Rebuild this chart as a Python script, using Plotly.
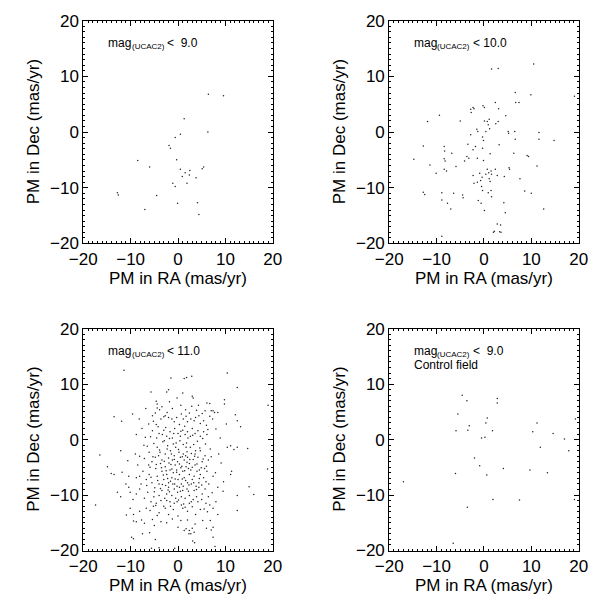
import plotly.graph_objects as go

# Panel 1: mag < 9.0
p1_x = [6.4, 9.6, 1.3, 6.3, 0.5, -0.6, -1.9, -1.6, -0.3, -8.5, -6.0, 0.5, 2.5, 1.5, 5.4, 5.1, 0.9, 2.4,
        3.8, 1.9, -1.1, -0.6, -12.8, -12.6, -4.5, -0.1, 4.1, -7.0, 4.4]
p1_y = [6.8, 6.5, 2.4, 0.0, -0.4, -1.0, -2.4, -2.9, -5.0, -5.1, -6.3, -6.7, -6.9, -7.3, -6.3, -6.6, -8.0, -7.7,
        -8.2, -9.2, -9.2, -9.8, -10.9, -11.3, -11.4, -12.8, -12.7, -13.9, -14.8]

# Panel 2: mag < 10.0
p2 = [(-14.8, -4.9), (-12.8, -2.5), (-12.8, -10.8), (-12.5, -11.2), (-11.9, 1.9), (-11.4, -5.9), (-10.1, -7.4),
      (-9.4, 3.0), (-8.4, -2.6), (-8.3, -3.4), (-8.4, -4.8), (-8.2, -5.2), (-8.4, -6.7), (-7.9, -7.0),
      (-8.9, -10.9), (-8.9, -12.2), (-7.7, -12.8), (-7.0, -13.8), (-6.8, -3.8), (-6.4, -11.0), (-5.9, -6.2),
      (-5.0, 2.0), (-4.5, -11.3), (-4.4, -11.8), (-4.1, -5.2), (-3.6, -4.4), (-3.4, -2.2), (-2.8, -0.5),
      (-2.8, 4.1), (-2.7, 3.5), (-2.3, 4.4), (-2.1, 4.2), (-3.2, -4.7), (-2.3, -3.2), (-1.8, -2.6), (-1.5, 0.5),
      (-1.3, 0.1), (-1.4, -4.7), (-2.3, -7.8), (-2.1, -9.2), (-1.4, -9.0), (-0.9, -7.4), (-0.7, -8.7),
      (-0.5, -9.8), (-0.3, -10.5), (-0.4, -8.1), (-0.2, 4.7), (0.1, 4.4), (-0.3, -0.9), (-0.1, -1.5),
      (-0.3, -2.9), (-0.1, -5.1), (-1.2, -12.3), (-0.6, -12.8), (0.1, -14.1), (0.1, 2.0), (0.4, 0.1),
      (0.4, -7.6), (0.7, -6.7), (1.0, -7.3), (0.7, 1.9), (0.9, 1.3), (1.1, 2.3), (1.2, 0.6), (1.3, -3.9),
      (1.1, -8.4), (1.3, -8.9), (0.9, -10.9), (1.5, -7.0), (1.6, -7.6), (1.6, -11.6), (1.5, -10.5),
      (1.6, 11.3), (2.4, 5.3), (2.4, -6.7), (2.8, -7.8), (2.5, 1.5), (3.0, 11.4), (3.0, 1.9), (3.2, -2.3),
      (3.1, 4.2), (2.0, -18.0), (2.2, -17.8), (2.8, -16.5), (3.5, -16.7), (3.3, -17.9), (3.6, -18.0),
      (4.3, -8.0), (4.2, -12.7), (4.5, -14.5), (4.6, 2.9), (5.1, 0.1), (5.2, -0.2), (5.3, -6.4), (5.4, -6.7),
      (6.6, 7.1), (6.5, 0.1), (6.6, -1.3), (6.7, 5.3), (7.4, 5.3), (6.3, -3.8), (7.6, -8.4), (8.6, -10.6),
      (9.1, -4.2), (9.4, -4.4), (9.9, 6.7), (10.0, -11.0), (10.5, 12.2), (11.2, -6.1), (11.6, -0.1),
      (11.6, -1.3), (12.6, -13.8), (14.8, -1.5), (19.1, 6.4), (-8.9, -18.7)]
p2_x = [p[0] for p in p2]
p2_y = [p[1] for p in p2]

# Panel 3: mag < 11.0
p3 = [(-11.4, 12.5), (-1.5, 11.1), (1.3, 11.0), (1.8, 11.2), (2.9, 11.4), (10.4, 12.0), (12.5, 9.4),
      (-5.7, 8.6), (-2.4, 8.6), (-2.0, 9.0), (-4.6, 6.9), (-4.4, 6.4), (-4.4, 5.7), (-0.2, 7.5), (3.0, 7.8),
      (3.2, 7.5), (6.1, 6.6), (6.7, 6.5), (9.8, 7.2), (9.8, 6.4), (7.0, 5.2), (7.4, 5.2), (5.7, 5.2),
      (19.0, 6.2), (-13.5, 4.1), (-9.6, 4.6), (-11.9, 3.3), (-8.2, 3.7), (-6.2, 2.8), (-5.4, 4.3), (-5.2, 3.3),
      (-4.6, 2.7), (-4.2, 2.3), (-3.6, 3.7), (-3.0, 4.1), (-2.7, 4.3), (-2.3, 4.9), (-2.0, 4.0), (-1.3, 3.7),
      (-0.8, 3.2), (-0.3, 4.0), (0.7, 4.6), (1.1, 3.7), (1.7, 4.2), (2.0, 3.2), (2.4, 4.8), (2.7, 3.7),
      (3.4, 3.4), (3.7, 4.0), (4.4, 4.3), (4.7, 2.9), (5.4, 3.4), (6.7, 4.2), (7.3, 3.7), (7.7, 4.9),
      (8.4, 4.9), (12.1, 4.5), (12.5, 3.4), (13.2, 2.3),
      (-5.4, 1.6), (-4.0, 1.1), (-3.0, 1.7), (-2.4, 0.6), (-1.7, 1.4), (-1.2, 0.3), (-0.7, 2.0), (0.0, 1.1),
      (0.5, 0.6), (1.0, 1.7), (1.5, 0.9), (2.0, 1.4), (2.6, 0.6), (3.0, 2.0), (3.6, 1.1), (4.2, 1.6),
      (4.7, 0.6), (5.4, 1.4), (6.1, 0.9), (10.4, -1.4), (11.1, -1.1), (11.8, -1.8), (12.5, -1.4),
      (14.7, -1.6), (-16.5, -2.8), (-12.1, -2.0), (-9.0, -2.6), (-8.1, -3.0), (-7.1, -3.4), (-6.1, -2.3),
      (-5.5, -4.0), (-4.8, -3.2), (-4.4, -1.4), (-3.8, -2.3), (-3.4, -3.7), (-2.7, -2.6), (-2.2, -1.1),
      (-2.0, -3.3), (-1.6, -2.0), (-1.2, -3.7), (-0.8, -2.9), (-0.5, -1.4), (-0.1, -4.0), (0.2, -2.3),
      (0.5, -3.2), (0.8, -4.8), (1.1, -2.6), (1.3, -3.7), (1.7, -1.4), (2.0, -3.2), (2.4, -4.3), (2.8, -2.5),
      (3.2, -3.6), (3.7, -2.0), (4.2, -3.2), (4.7, -2.0), (5.1, -4.0), (5.7, -2.9), (6.4, -3.7), (9.1, -4.2),
      (-14.9, -4.9), (-14.1, -6.1), (-13.5, -6.3), (-11.8, -5.9), (-10.4, -6.6), (-8.8, -6.9), (-8.1, -6.6),
      (-7.4, -5.7), (-6.7, -7.2), (-6.1, -6.3), (-5.5, -7.8), (-4.7, -5.2), (-4.4, -6.6), (-4.0, -8.0),
      (-3.4, -5.7), (-3.0, -7.2), (-2.7, -4.9), (-2.4, -6.3), (-2.0, -7.8), (-1.7, -5.5), (-1.3, -6.9),
      (-1.0, -6.0), (-0.7, -8.0), (-0.3, -5.5), (0.0, -7.2), (0.3, -6.3), (0.7, -8.0), (1.0, -5.7),
      (1.3, -6.9), (1.7, -4.9), (2.0, -7.8), (2.4, -6.3), (2.7, -5.5), (3.0, -7.2), (3.4, -6.6), (4.0, -5.7),
      (4.4, -7.8), (4.7, -6.3), (5.4, -6.9), (6.1, -5.7), (7.4, -6.6), (11.1, -6.3), (11.3, -5.7),
      (18.9, -5.3), (-12.8, -9.5), (-12.1, -10.3), (-10.4, -8.6), (-10.1, -9.5), (-8.8, -9.8), (-8.1, -8.9),
      (-7.1, -10.6), (-6.4, -9.5), (-5.7, -11.2), (-5.1, -10.3), (-4.6, -11.5), (-4.0, -10.1), (-3.4, -9.2),
      (-2.8, -10.6), (-2.4, -9.8), (-2.0, -8.6), (-1.7, -11.2), (-1.3, -10.1), (-0.8, -8.9), (-0.5, -10.6),
      (-0.1, -9.5), (0.3, -8.6), (0.7, -10.3), (1.0, -9.2), (1.5, -10.6), (1.9, -8.9), (2.4, -10.1),
      (2.8, -11.2), (3.4, -9.2), (3.9, -10.3), (4.4, -8.6), (5.1, -9.8), (5.7, -8.9), (6.4, -10.3),
      (6.7, -11.8), (8.4, -8.6), (12.5, -10.1), (15.0, -8.5), (16.0, -9.9), (-17.4, -11.8), (-10.1, -12.4),
      (-9.4, -13.5), (-8.1, -12.9), (-6.7, -12.4), (-4.7, -11.9), (-4.0, -13.2), (-2.7, -12.4), (-2.0, -13.5),
      (-1.0, -12.6), (0.0, -13.8), (1.0, -12.4), (2.0, -12.9), (3.0, -12.1), (3.7, -13.5), (4.7, -12.6),
      (5.9, -11.5), (7.4, -12.4), (8.4, -13.5), (12.5, -12.8), (-9.4, -14.7), (-8.8, -14.8), (-7.7, -14.5),
      (-7.1, -15.1), (-5.4, -14.4), (0.0, -15.8), (1.3, -16.4), (1.7, -16.1), (2.4, -16.4), (2.7, -17.0),
      (3.0, -16.0), (3.4, -16.7), (7.4, -15.8), (-9.8, -17.6), (-4.8, -18.0), (-9.4, -17.9), (-5.6, -19.6),
      (-4.0, -19.5), (-0.7, -19.6), (2.3, -17.0), (3.1, -18.3), (3.5, -18.6), (7.0, -16.3), (7.4, -17.6),
      (7.8, -19.3),
      (-3.2, -0.4), (-1.0, -0.8), (0.4, -0.2), (1.8, -0.6), (3.3, -0.9), (-2.6, 2.2), (0.3, 2.7), (1.4, 2.4),
      (-0.6, -4.6), (1.9, -2.2), (3.6, -4.6), (-3.7, -4.3), (-1.5, -4.5), (0.6, -5.1), (2.2, -5.2),
      (-2.1, -9.1), (-0.2, -11.2), (1.2, -11.6), (2.3, -8.2), (-1.6, -7.5), (0.9, -7.1), (3.8, -8.4),
      (-3.3, -8.1), (4.9, -5.1), (-4.9, -8.7), (5.9, -7.6), (-5.9, -5.0), (6.8, -1.7), (-6.9, 0.4),
      (8.0, 1.9), (-8.8, 0.9), (9.5, -9.3), (-10.9, -13.6), (10.2, 2.8), (-3.9, 5.4), (4.3, 6.2),
      (-6.5, -1.2), (-5.8, 0.5), (-5.1, -0.7), (-4.5, 0.3), (-3.9, -1.9), (-3.3, 0.9), (-2.9, -0.2),
      (-2.3, -1.7), (-1.8, 0.2), (-1.4, -2.6), (-0.9, 1.1), (-0.4, -0.6), (0.1, -1.8), (0.6, 1.5), (1.1, -0.9),
      (1.6, -2.9), (2.1, 0.3), (2.6, -1.4), (3.1, 0.8), (3.6, -2.6), (4.1, -0.3), (4.6, -1.5), (5.2, 0.2),
      (5.8, -0.8), (6.3, 1.8), (-6.2, -4.6), (-5.3, -3.1), (-4.6, -4.5), (-4.1, -2.9), (-3.5, -5.1),
      (-2.9, -3.9), (-2.5, -5.6), (-1.9, -4.2), (-1.3, -5.3), (-0.8, -3.6), (-0.3, -5.9), (0.3, -4.4),
      (0.9, -3.1), (1.4, -5.6), (1.9, -4.1), (2.5, -3.6), (3.0, -5.0), (3.5, -3.0), (4.0, -4.4), (4.5, -5.5),
      (5.3, -3.5), (6.0, -4.8), (7.0, -3.1), (-6.6, -8.3), (-5.7, -6.8), (-5.0, -9.4), (-4.3, -7.4),
      (-3.7, -8.8), (-3.1, -6.4), (-2.6, -8.3), (-2.2, -7.0), (-1.8, -9.4), (-1.1, -8.0), (-0.6, -7.1),
      (-0.2, -8.4), (0.5, -9.3), (1.1, -8.4), (1.6, -7.4), (2.2, -9.3), (2.8, -8.0), (3.3, -7.8), (3.9, -9.0),
      (4.5, -7.0), (5.0, -8.2), (5.6, -5.2), (6.5, -8.0), (7.2, -9.6), (-5.9, -12.8), (-5.2, -12.0),
      (-4.4, -13.7), (-3.6, -11.0), (-3.0, -12.0), (-2.4, -11.0), (-1.6, -12.0), (-0.8, -11.5), (0.1, -10.9),
      (0.7, -11.8), (1.5, -12.2), (2.4, -11.5), (3.2, -10.8), (4.2, -11.2), (5.0, -10.8), (5.5, -12.5),
      (6.2, -13.0), (-5.0, -15.5), (-3.6, -14.8), (-2.4, -15.0), (-1.2, -14.3), (0.6, -14.6), (2.0, -14.5),
      (3.6, -15.2), (5.2, -14.6), (6.0, -16.0), (-4.8, 4.8), (-3.4, 5.9), (-1.2, 5.6), (0.6, 6.2), (1.6, 5.4),
      (2.9, 6.0), (3.9, 5.3), (5.1, 4.7), (-1.8, 6.8), (1.0, 8.4), (-6.8, 5.6), (6.0, 2.6), (-7.6, 2.0),
      (-7.2, -1.0), (-8.5, -4.6), (-7.8, -8.0), (-9.5, -10.8), (7.9, -6.0), (8.6, -2.6), (8.9, 0.3),
      (9.6, -7.6), (-11.0, -8.0), (-10.6, -3.8), (6.8, -14.6), (8.0, -11.2), (-7.5, -17.0), (-6.0, -16.8)]
p3_x = [p[0] for p in p3]
p3_y = [p[1] for p in p3]

# Panel 4: mag < 9.0, control field
p4 = [(-17.0, -7.6), (-6.5, -18.7), (-4.6, 8.0), (-3.6, 7.0), (-5.5, 4.6), (-5.9, 1.6), (-3.1, 2.5),
      (-3.4, 1.7), (-6.0, -6.1), (-2.0, -3.3), (-0.9, -4.7), (-3.5, -12.2), (-0.5, 0.3), (0.2, 0.4),
      (0.7, 3.9), (0.4, 3.0), (0.6, -6.4), (1.8, 1.6), (1.9, -10.8), (2.8, 7.4), (2.8, 6.6), (4.1, -5.2),
      (7.5, -10.9), (9.7, -5.5), (10.3, 1.4), (11.2, 3.0), (11.9, -1.4), (13.4, -6.0), (14.6, 1.1),
      (17.0, 0.1), (17.9, -2.0), (19.1, -10.8), (19.3, 3.7)]
p4_x = [p[0] for p in p4]
p4_y = [p[1] for p in p4]

label_main = "mag"
label_sub = "(UCAC2)"
label_cut = ["<\u00a0\u00a09.0", "<\u00a010.0", "<\u00a011.0", "<\u00a0\u00a09.0"]
label_extra = ["", "", "", "Control field"]
tick_vals = [-20, -10, 0, 10, 20]
x_title = "PM in RA (mas/yr)"
y_title = "PM in Dec (mas/yr)"

W, H = 606, 607
FONT = "Liberation Sans, Arial, Helvetica, sans-serif"
xdoms = [[72 / W, 269 / W], [390 / W, 587 / W]]
ydoms = [[1 - 242 / H, 1 - 12 / H], [1 - 559 / H, 1 - 330 / H]]

fig = go.Figure()
data = [(p1_x, p1_y), (p2_x, p2_y), (p3_x, p3_y), (p4_x, p4_y)]
pos = [(0, 0), (1, 0), (0, 1), (1, 1)]


def txt(text, size, **kw):
    fig.add_annotation(text=text, showarrow=False, font=dict(family=FONT, size=size, color="black"), **kw)


for i, ((xs, ys), (c, r)) in enumerate(zip(data, pos)):
    n = i + 1
    xa = "x" if n == 1 else f"x{n}"
    ya = "y" if n == 1 else f"y{n}"
    fig.add_trace(go.Scatter(x=xs, y=ys, mode="markers", xaxis=xa, yaxis=ya,
                             marker=dict(size=1.5, color="#222222", line=dict(width=0)),
                             showlegend=False, hoverinfo="skip"))
    axcommon = dict(range=[-20, 20], tickvals=tick_vals, ticks="inside", ticklen=5, tickwidth=1,
                    tickcolor="black", showline=True, linecolor="black", linewidth=1, mirror="allticks",
                    showgrid=False, zeroline=False,
                    minor=dict(dtick=1, ticks="inside", ticklen=2, tickcolor="black", showgrid=False),
                    tickfont=dict(family=FONT, size=17, color="black"))
    fig.update_layout(**{
        ("xaxis" if n == 1 else f"xaxis{n}"): dict(domain=xdoms[c], anchor=ya, **axcommon),
        ("yaxis" if n == 1 else f"yaxis{n}"): dict(domain=ydoms[r], anchor=xa, **axcommon),
    })
    # in-panel label: mag_(UCAC2) < value
    txt(label_main, 12, x=-15.2, y=16.0, xref=xa, yref=ya, xanchor="left", yanchor="middle")
    txt(label_sub, 8, x=-15.2, y=16.0, xref=xa, yref=ya, xanchor="left", yanchor="middle",
        xshift=23.5, yshift=-4)
    txt(label_cut[i], 12, x=-15.2, y=16.0, xref=xa, yref=ya, xanchor="left", yanchor="middle",
        xshift=59)
    if label_extra[i]:
        txt(label_extra[i], 12, x=-15.2, y=13.5, xref=xa, yref=ya, xanchor="left", yanchor="middle")
    # axis titles
    xc = (xdoms[c][0] + xdoms[c][1]) / 2
    txt(x_title, 17, x=xc, y=ydoms[r][0], xref="paper", yref="paper", xanchor="center",
        yanchor="middle", yshift=-35)
    yc = (ydoms[r][0] + ydoms[r][1]) / 2
    txt(y_title, 17, x=xdoms[c][0], y=yc, xref="paper", yref="paper", xanchor="center",
        yanchor="middle", xshift=-50, textangle=-90)

fig.update_layout(width=W, height=H, margin=dict(l=0, r=0, t=0, b=0),
                  paper_bgcolor="white", plot_bgcolor="white")
fig.write_html("out.html")
